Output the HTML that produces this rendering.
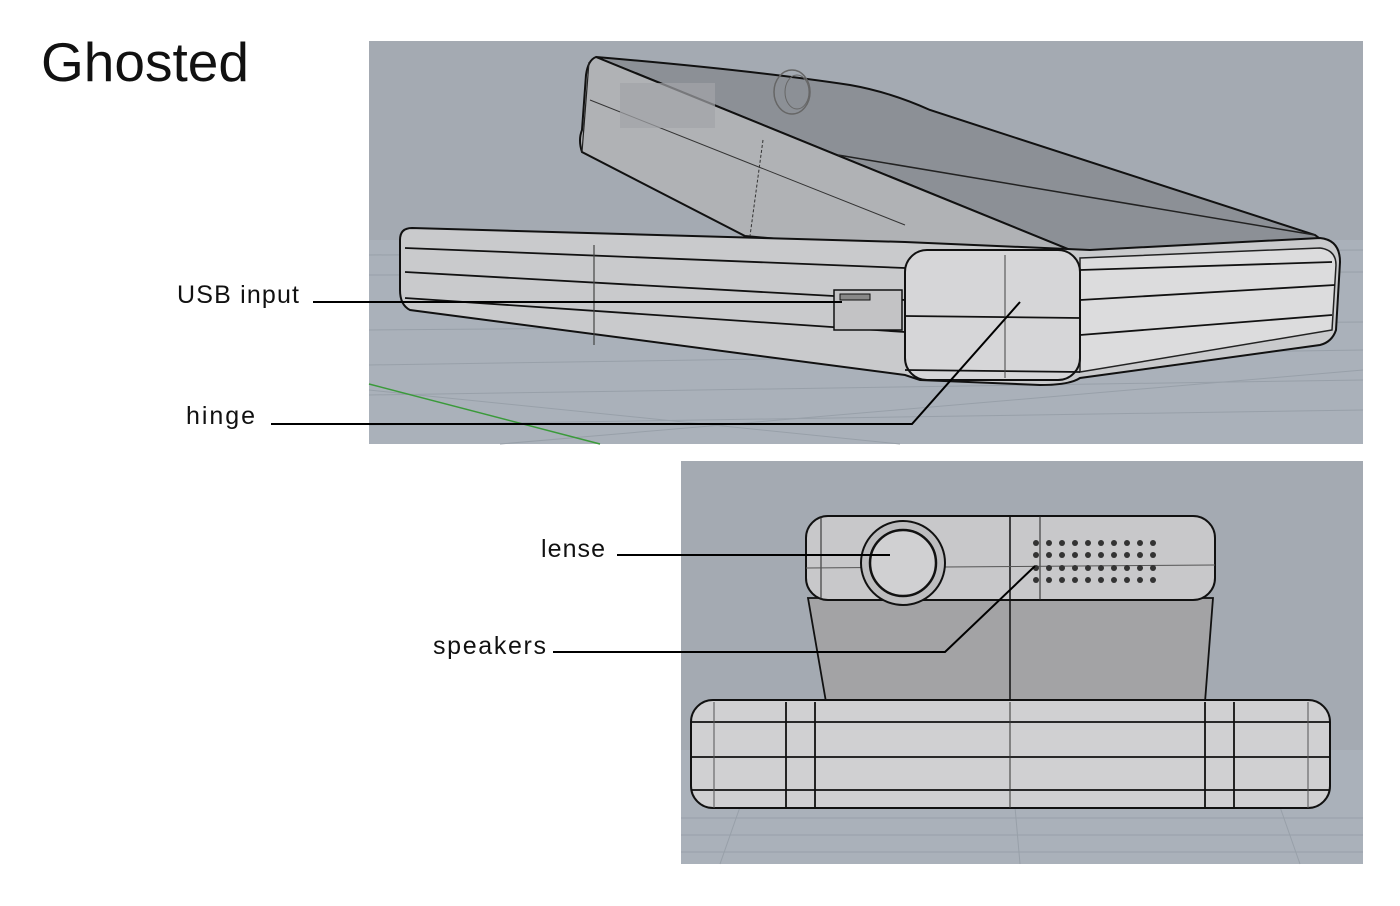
<!DOCTYPE html>
<html><head><meta charset="utf-8"><style>
html,body{margin:0;padding:0;background:#fff;width:1400px;height:906px;overflow:hidden}
svg{display:block}
text{font-family:"Liberation Sans",sans-serif;fill:#111}
</style></head><body>
<svg width="1400" height="906" viewBox="0 0 1400 906" xmlns="http://www.w3.org/2000/svg">
<text x="41" y="81" font-size="55" textLength="208">Ghosted</text>
<!-- top panel -->
<rect x="369" y="41" width="994" height="403" fill="#a4aab2"/>
<rect x="369" y="240" width="994" height="204" fill="#aab1ba"/>
<g stroke="#98a0a9" stroke-width="1" fill="none">
<line x1="369" y1="255" x2="1363" y2="250"/><line x1="369" y1="275" x2="1363" y2="272"/>
<line x1="369" y1="330" x2="1363" y2="322"/><line x1="369" y1="365" x2="1363" y2="350"/>
<line x1="369" y1="395" x2="1363" y2="380"/><line x1="369" y1="425" x2="1363" y2="410"/>
<line x1="500" y1="444" x2="1363" y2="370"/><line x1="369" y1="390" x2="900" y2="444"/>
</g>
<line x1="369" y1="384" x2="600" y2="444" stroke="#3a9a3a" stroke-width="1.5"/>
<!-- lid -->
<path d="M596,57 Q750,70 850,85 Q890,92 930,110 L1315,235 L1335,250 L1085,256 Z" fill="#8c9096" stroke="#111" stroke-width="2"/>
<path d="M596,57 L1085,256 L905,250 L745,236 L582,152 Q578,140 582,130 L586,75 Q588,60 596,57 Z" fill="#b0b2b5" stroke="#111" stroke-width="2"/>
<line x1="589" y1="62" x2="582" y2="152" stroke="#222" stroke-width="1.2"/>
<line x1="590" y1="100" x2="905" y2="225" stroke="#333" stroke-width="1"/>
<line x1="763" y1="140" x2="750" y2="236" stroke="#333" stroke-width="1" stroke-dasharray="3,2"/>
<ellipse cx="792" cy="92" rx="18" ry="22" fill="none" stroke="#666" stroke-width="1.5"/>
<ellipse cx="797" cy="92" rx="12" ry="17" fill="none" stroke="#666" stroke-width="1"/>
<rect x="620" y="83" width="95" height="45" fill="#a2a4a8" opacity="0.7"/>
<line x1="838" y1="155" x2="1315" y2="235" stroke="#222" stroke-width="1.5"/>
<!-- base -->
<path d="M412,228 L905,242 L1090,250 L1320,238 Q1340,240 1340,262 L1336,330 Q1332,342 1320,345 L1080,378 Q1070,385 1040,385 L920,380 L905,375 L410,310 Q400,305 400,290 L400,240 Q400,228 412,228 Z" fill="#c9cacc" stroke="#111" stroke-width="2"/>
<path d="M1080,258 L1320,248 Q1336,250 1336,265 L1332,330 L1080,372 Z" fill="#dcdcdd" stroke="#222" stroke-width="1.5"/>
<rect x="905" y="250" width="175" height="130" rx="22" fill="#d6d6d8" stroke="#111" stroke-width="2"/>
<g stroke="#111" stroke-width="1.8" fill="none">
<line x1="405" y1="248" x2="905" y2="268"/><line x1="405" y1="272" x2="905" y2="300"/>
<line x1="405" y1="298" x2="905" y2="332"/>
<line x1="1080" y1="270" x2="1332" y2="262"/><line x1="1080" y1="300" x2="1335" y2="285"/>
<line x1="1080" y1="335" x2="1332" y2="315"/>
<line x1="905" y1="316" x2="1080" y2="318"/><line x1="905" y1="370" x2="1080" y2="372"/>
</g>
<line x1="594" y1="245" x2="594" y2="345" stroke="#444" stroke-width="1.2"/>
<line x1="1005" y1="255" x2="1005" y2="378" stroke="#444" stroke-width="1"/>
<rect x="834" y="290" width="68" height="40" fill="#c3c3c5" stroke="#111" stroke-width="1.5"/>
<rect x="840" y="294" width="30" height="6" fill="#888" stroke="#111"/>
<!-- labels top -->
<text x="177" y="303" font-size="25" textLength="122">USB input</text>
<line x1="313" y1="302" x2="842" y2="302" stroke="#000" stroke-width="2"/>
<text x="186" y="424" font-size="25" textLength="69">hinge</text>
<polyline points="271,424 912,424 1020,302" fill="none" stroke="#000" stroke-width="2"/>
<!-- bottom panel -->
<rect x="681" y="461" width="682" height="403" fill="#a4aab2"/>
<rect x="681" y="750" width="682" height="114" fill="#aab1ba"/>
<g stroke="#98a0a9" stroke-width="1">
<line x1="681" y1="818" x2="1363" y2="818"/><line x1="681" y1="835" x2="1363" y2="835"/><line x1="681" y1="852" x2="1363" y2="852"/>
<line x1="720" y1="864" x2="760" y2="750"/><line x1="1020" y1="864" x2="1010" y2="750"/><line x1="1300" y1="864" x2="1260" y2="750"/>
</g>
<path d="M808,598 L1213,598 L1205,702 L826,702 Z" fill="#a3a3a5" stroke="#111" stroke-width="1.8"/>
<rect x="806" y="516" width="409" height="84" rx="22" fill="#c8c8ca" stroke="#111" stroke-width="2"/>
<line x1="1010" y1="516" x2="1010" y2="702" stroke="#111" stroke-width="1.5"/>
<line x1="821" y1="516" x2="821" y2="600" stroke="#222"/><line x1="1040" y1="516" x2="1040" y2="600" stroke="#222"/>
<line x1="806" y1="568" x2="1215" y2="565" stroke="#555"/>
<circle cx="903" cy="563" r="42" fill="#bdbdbf" stroke="#111" stroke-width="2"/>
<circle cx="903" cy="563" r="33" fill="#d0d0d2" stroke="#111" stroke-width="2.5"/>
<g fill="#333">
<g id="r"><circle cx="1036" cy="543" r="3"/><circle cx="1049" cy="543" r="3"/><circle cx="1062" cy="543" r="3"/><circle cx="1075" cy="543" r="3"/><circle cx="1088" cy="543" r="3"/><circle cx="1101" cy="543" r="3"/><circle cx="1114" cy="543" r="3"/><circle cx="1127" cy="543" r="3"/><circle cx="1140" cy="543" r="3"/><circle cx="1153" cy="543" r="3"/></g>
<use href="#r" y="12"/><use href="#r" y="25"/><use href="#r" y="37"/>
</g>
<rect x="691" y="700" width="639" height="108" rx="22" fill="#d0d0d2" stroke="#111" stroke-width="2"/>
<g stroke="#111" stroke-width="1.8">
<line x1="691" y1="722" x2="1330" y2="722"/><line x1="691" y1="757" x2="1330" y2="757"/><line x1="691" y1="790" x2="1330" y2="790"/>
<line x1="786" y1="702" x2="786" y2="808"/><line x1="815" y1="702" x2="815" y2="808"/>
<line x1="1205" y1="702" x2="1205" y2="808"/><line x1="1234" y1="702" x2="1234" y2="808"/>
</g>
<line x1="1010" y1="702" x2="1010" y2="808" stroke="#333"/>
<line x1="714" y1="702" x2="714" y2="808" stroke="#555"/><line x1="1308" y1="702" x2="1308" y2="808" stroke="#555"/>
<text x="541" y="557" font-size="25" textLength="64">lense</text>
<line x1="617" y1="555" x2="890" y2="555" stroke="#000" stroke-width="2"/>
<text x="433" y="654" font-size="25" textLength="113">speakers</text>
<polyline points="553,652 945,652 1035,566" fill="none" stroke="#000" stroke-width="2"/>
</svg>
</body></html>
